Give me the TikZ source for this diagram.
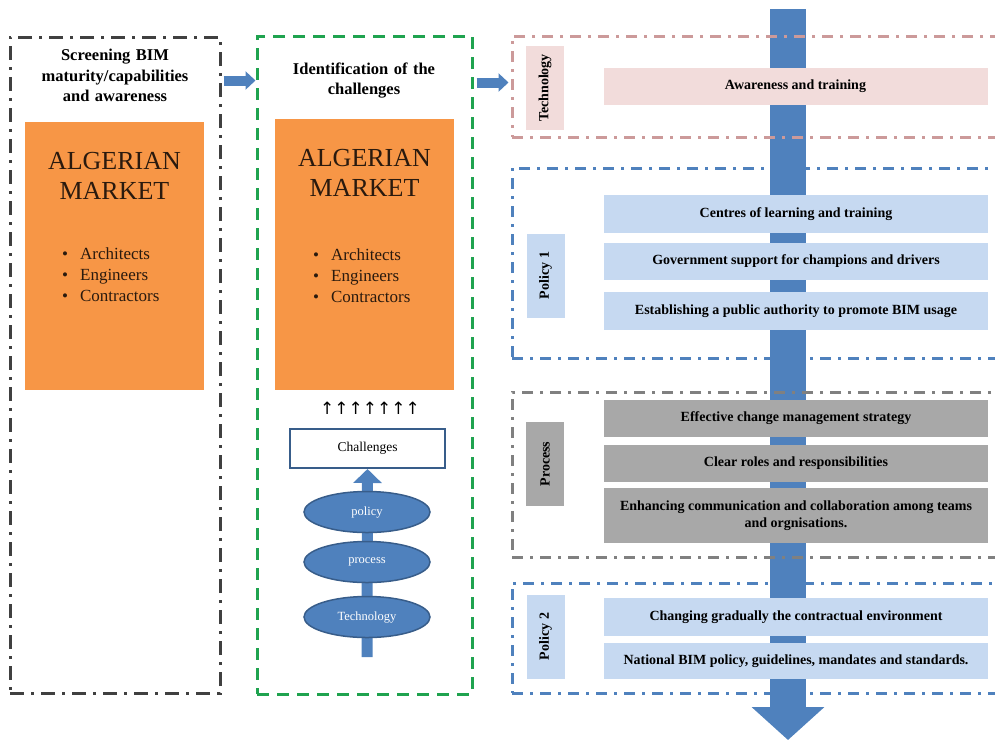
\documentclass[tikz,border=0pt]{standalone}
\usepackage{fontspec}
\setmainfont{Liberation Serif}
\newfontfamily\symfont{DejaVu Sans}
\usetikzlibrary{shapes.geometric,arrows.meta,calc}
\definecolor{orng}{HTML}{F79646}
\definecolor{bblue}{HTML}{4F81BD}
\definecolor{dblue}{HTML}{385D8A}
\definecolor{lblue}{HTML}{C6D9F1}
\definecolor{lpink}{HTML}{F2DCDB}
\definecolor{pinkln}{HTML}{CC9A9A}
\definecolor{gfill}{HTML}{A8A8A8}
\definecolor{gline}{HTML}{808080}
\definecolor{grn}{HTML}{1FA34F}
\definecolor{dgray}{HTML}{404040}
\definecolor{txtdark}{HTML}{2A1A0E}
\begin{document}
\begin{tikzpicture}[x=1pt,y=-1pt,
  colbox/.style={draw=dgray, line width=3pt, dash pattern=on 14pt off 7pt on 3pt off 7pt, inner sep=0},
  greenbox/.style={draw=grn, line width=3pt, dash pattern=on 12pt off 8pt, inner sep=0},
  grpbox/.style={line width=3pt, dash pattern=on 11pt off 7pt on 3pt off 7pt, inner sep=0, minimum width=488pt},
  orangebox/.style={fill=orng, inner sep=0, minimum width=179pt},
  coltitle/.style={font=\fontsize{16.5}{20.5}\selectfont\bfseries, align=center, text width=205pt},
  algtitle/.style={font=\fontsize{26}{30}\selectfont, align=center, text=txtdark},
  alglist/.style={font=\fontsize{17}{21}\selectfont, align=left, anchor=west, text=txtdark, inner sep=0},
  blockarrow/.style={line width=10pt, bblue, -{Triangle[width=18pt,length=10pt]}},
  oval/.style={ellipse, fill=bblue, draw=dblue, line width=1.5pt, minimum width=126pt, minimum height=41pt, inner sep=0, text=white, font=\fontsize{12.5}{14}\selectfont},
  lbl/.style={rotate=90, minimum width=84pt, minimum height=38pt, inner sep=0, font=\fontsize{14}{16}\selectfont\bfseries},
  item/.style={minimum width=384pt, minimum height=37pt, inner sep=0, align=center, font=\fontsize{14}{17}\selectfont\bfseries}
]
\useasboundingbox (0,0) rectangle (995,740);
\clip (0,0) rectangle (995,740);

% ---------- left column ----------
\node[colbox, minimum width=210pt, minimum height=656pt] (leftbox) at (115,365) {};
\node[coltitle] (lefttitle) at (115,75.5) {Screening BIM\\maturity/capabilities\\and awareness};
\node[orangebox, minimum height=268pt] (org1) at (114.5,256) {};
\node[algtitle] (alg1) at (114.5,175.5) {ALGERIAN\\MARKET};
\node[alglist] (list1) at (62,275) {\textbullet\hspace{12pt}Architects\\\textbullet\hspace{12pt}Engineers\\\textbullet\hspace{12pt}Contractors};

% ---------- middle column ----------
\node[greenbox, minimum width=215pt, minimum height=658pt] (midbox) at (364.5,365) {};
\node[coltitle] (midtitle) at (364,80.5) {Identification of the\\challenges};
\node[orangebox, minimum height=271pt] (org2) at (364.5,254.5) {};
\node[algtitle] (alg2) at (364.5,172.5) {ALGERIAN\\MARKET};
\node[alglist] (list2) at (313,276) {\textbullet\hspace{12pt}Architects\\\textbullet\hspace{12pt}Engineers\\\textbullet\hspace{12pt}Contractors};
\node[font=\symfont\fontsize{17}{17}\selectfont, inner sep=0] (ups) at (370,408) {↑↑↑↑↑↑↑};
\node[draw=dblue, fill=white, line width=2pt, minimum width=155pt, minimum height=39pt, inner sep=0, font=\fontsize{13.5}{15}\selectfont] (chal) at (367.5,448.5) {Challenges};
\coordinate (ub) at (367,657);
\draw[line width=11pt, bblue, -{Triangle[width=28pt,length=14pt]}] (ub) -- (chal.south);
\node[oval] (policy) at (367,512) {policy};
\node[oval] (process) at (367,562) {process};
\node[oval] (technology) at (367,617) {Technology};

% ---------- right column ----------
\coordinate (rt) at (788,9);
\coordinate (rb) at (788,740);
\draw[line width=36pt, bblue, -{Triangle[width=71pt,length=33pt]}] (rt) -- (rb);

\node[grpbox, draw=pinkln, minimum height=101pt] (techgrp) at (756,86.5) {};
\node[grpbox, draw=bblue, minimum height=190pt] (pol1grp) at (756,263) {};
\node[grpbox, draw=gline, minimum height=165pt] (procgrp) at (756,474.5) {};
\node[grpbox, draw=bblue, minimum height=110pt] (pol2grp) at (756,638) {};

\node[lbl, fill=lpink] (techlbl) at (545,88) {Technology};
\node[item, fill=lpink] (aware) at (795.5,86.5) {Awareness and training};

\node[lbl, fill=lblue] (pol1lbl) at (545.5,275.5) {Policy 1};
\node[item, fill=lblue, minimum height=38pt] (centres) at (796,214) {Centres of learning and training};
\node[item, fill=lblue] (govt) at (796,261.5) {Government support for champions and drivers};
\node[item, fill=lblue, minimum height=38pt] (estab) at (796,311) {Establishing a public authority to promote BIM usage};

\node[lbl, fill=gfill] (proclbl) at (545,464) {Process};
\node[item, fill=gfill] (effect) at (796,418.5) {Effective change management strategy};
\node[item, fill=gfill] (roles) at (796,463.5) {Clear roles and responsibilities};
\node[item, fill=gfill, minimum height=55pt] (enhance) at (796,515.5) {Enhancing communication and collaboration among teams\\and orgnisations.};

\node[lbl, fill=lblue] (pol2lbl) at (545.5,636.5) {Policy 2};
\node[item, fill=lblue, minimum height=38pt] (changing) at (796,617) {Changing gradually the contractual environment};
\node[item, fill=lblue, minimum height=36pt] (national) at (796,661) {National BIM policy, guidelines, mandates and standards.};

% ---------- connecting block arrows ----------
\draw[blockarrow] ($(leftbox.north east)+(2,45)$) coordinate (a1) -- (a1 -| midbox.west);
\draw[blockarrow] ($(midbox.north east)+(3,48)$) coordinate (a2) -- ($(a2 -| techgrp.west)+(-2,0)$);
\end{tikzpicture}
\end{document}
